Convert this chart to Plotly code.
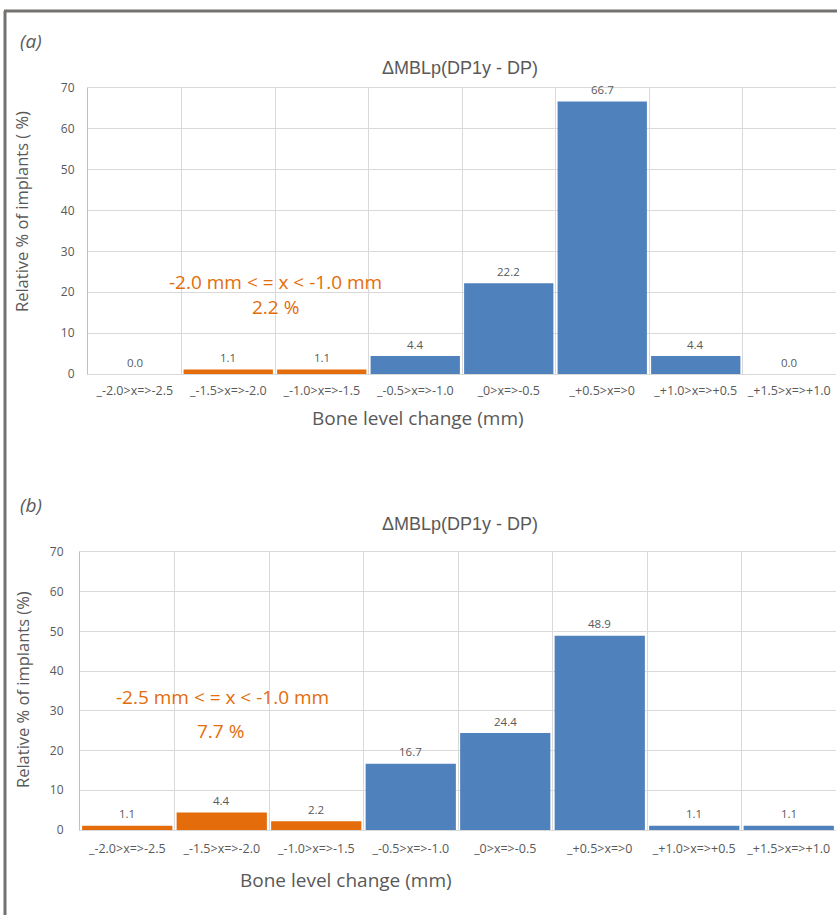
import plotly.graph_objects as go

W, H = 837, 915

categories = ["_-2.0>x=>-2.5", "_-1.5>x=>-2.0", "_-1.0>x=>-1.5", "_-0.5>x=>-1.0",
              "_0>x=>-0.5", "_+0.5>x=>0", "_+1.0>x=>+0.5", "_+1.5>x=>+1.0"]
values_a = [0.0, 1.1, 1.1, 4.4, 22.2, 66.7, 4.4, 0.0]
values_b = [1.1, 4.4, 2.2, 16.7, 24.4, 48.9, 1.1, 1.1]
# colour group per category: orange = range highlighted in the annotation
group_a = ["o", "o", "o", "b", "b", "b", "b", "b"]
group_b = ["o", "o", "o", "b", "b", "b", "b", "b"]
title_text = "ΔMBLp(DP1y - DP)"
ytitle_a = "Relative % of implants ( %)"
ytitle_b = "Relative % of implants (%)"
xtitle = "Bone level change (mm)"
note_a = ["-2.0 mm < = x < -1.0 mm", "2.2 %"]
note_b = ["-2.5 mm < = x < -1.0 mm", "7.7 %"]

BLUE = "#4F81BD"
ORANGE = "#E46C0A"
GRAY = "#595959"
GRID = "#d9d9d9"
cmap = {"o": ORANGE, "b": BLUE}


def px_x(p):
    return p / W


def px_y(p):
    return 1 - p / H


fig = go.Figure()
fig.add_trace(go.Bar(x=categories, y=values_a, marker_color=[cmap[g] for g in group_a],
                     marker_line_width=0, xaxis="x", yaxis="y", showlegend=False))
fig.add_trace(go.Bar(x=categories, y=values_b, marker_color=[cmap[g] for g in group_b],
                     marker_line_width=0, xaxis="x2", yaxis="y2", showlegend=False))

xtickfont = dict(family="Open Sans, sans-serif", size=12.5, color=GRAY)
ytickfont = dict(family="Open Sans, sans-serif", size=12, color=GRAY)
common_x = dict(type="category", tickson="boundaries", showgrid=True, gridcolor=GRID,
                gridwidth=1, showline=True, linecolor=GRID, linewidth=1, mirror=True,
                ticks="", tickfont=xtickfont,
                range=[-0.5, 7.5], fixedrange=True, zeroline=False, automargin=False)
common_y = dict(range=[0, 70], dtick=10, showgrid=True, gridcolor=GRID, gridwidth=1,
                showline=True, linecolor="#bfbfbf", linewidth=1, mirror=False,
                ticks="outside", tickcolor="rgba(0,0,0,0)", tickfont=ytickfont,
                zeroline=False, fixedrange=True, automargin=False)

fig.update_layout(
    width=W, height=H, margin=dict(l=0, r=0, t=0, b=0, pad=0, autoexpand=False),
    paper_bgcolor="white", plot_bgcolor="white", bargap=0.045, showlegend=False,
    xaxis=dict(**common_x, domain=[px_x(88), px_x(836)], anchor="y", ticklabelstandoff=5),
    yaxis=dict(**common_y, domain=[px_y(374), px_y(88)], anchor="x", ticklen=10),
    xaxis2=dict(**common_x, domain=[px_x(80), px_x(836)], anchor="y2", ticklabelstandoff=7),
    yaxis2=dict(**common_y, domain=[px_y(830), px_y(552)], anchor="x2", ticklen=13),
)

ann = []
# data labels
for xa, ya, vals in (("x", "y", values_a), ("x2", "y2", values_b)):
    for c, v in zip(categories, vals):
        ann.append(dict(x=c, y=v, xref=xa, yref=ya, text=f"{v:.1f}", showarrow=False,
                        yshift=12, xanchor="center", yanchor="middle",
                        font=dict(family="Open Sans, sans-serif", size=11.5, color=GRAY)))

big = dict(family="Open Sans, sans-serif", size=19, color=GRAY)
ytf = dict(family="Open Sans, sans-serif", size=16.5, color=GRAY)
ttl = dict(family="Liberation Sans, Arial, sans-serif", size=18, color=GRAY)
orange_font = dict(family="Open Sans, sans-serif", size=19, color=ORANGE)
lab = dict(family="Open Sans, sans-serif", size=19, color=GRAY)


def pa(text, x, y, font, **kw):
    ann.append(dict(text=text, x=px_x(x), y=px_y(y), xref="paper", yref="paper",
                    showarrow=False, font=font, xanchor="center", yanchor="middle", **kw))


pa("<i>(a)</i>", 31, 41, lab)
pa("<i>(b)</i>", 31, 505, lab)
pa(title_text, 460, 68, ttl)
pa(title_text, 460, 524, ttl)
pa(xtitle, 418, 418, big)
pa(xtitle, 346, 880, big)
pa(ytitle_a, 22, 212, ytf, textangle=-90)
pa(ytitle_b, 22, 690, ytf, textangle=-90)
pa(note_a[0], 275, 282, orange_font)
pa(note_a[1], 275, 307, orange_font)
pa(note_b[0], 222, 697, orange_font)
pa(note_b[1], 220, 731, orange_font)

fig.update_layout(annotations=ann)

# outer frame (left and top edges visible)
fig.add_shape(type="line", xref="paper", yref="paper", x0=px_x(5), x1=px_x(5),
              y0=0, y1=px_y(11), line=dict(color="#767171", width=3))
fig.add_shape(type="line", xref="paper", yref="paper", x0=px_x(4), x1=1,
              y0=px_y(11), y1=px_y(11), line=dict(color="#767171", width=3))

fig.write_html("out.html", config={"displayModeBar": False},
               post_script="document.body.style.margin='0';")
